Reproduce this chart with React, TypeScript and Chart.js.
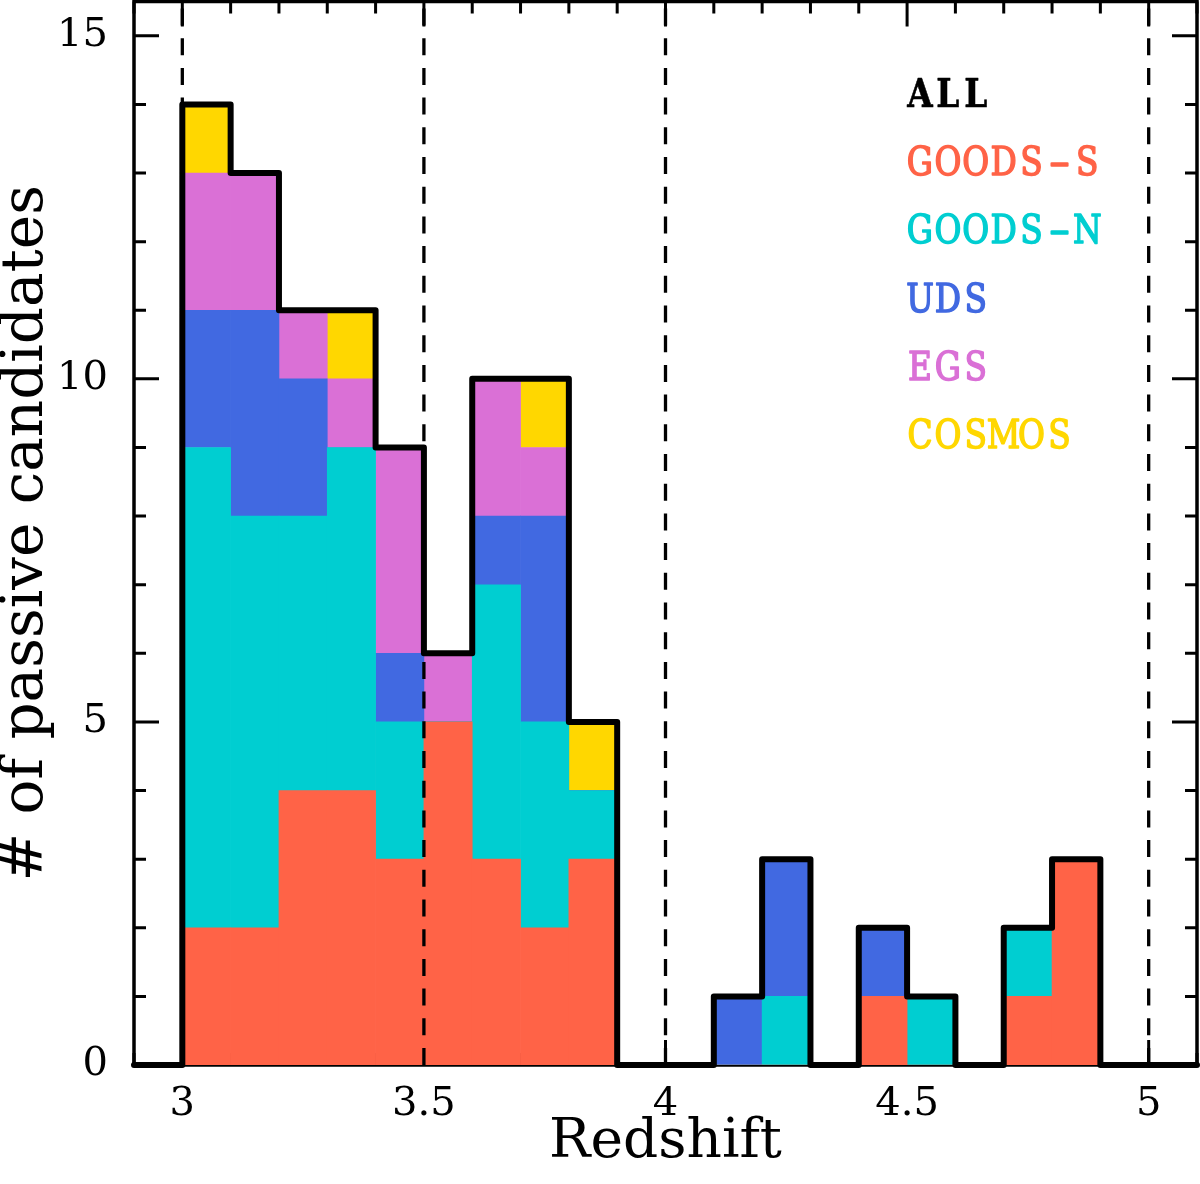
import React, { useEffect, useRef } from 'react';
import { Chart, registerables } from 'chart.js';

Chart.register(...registerables);

// ---- data ----
const BIN_CENTERS = [3.05, 3.15, 3.25, 3.35, 3.45, 3.55, 3.65, 3.75, 3.85, 3.95,
  4.05, 4.15, 4.25, 4.35, 4.45, 4.55, 4.65, 4.75, 4.85, 4.95];
const BIN_WIDTH = 0.1;

const GOODS_S = [2, 2, 4, 4, 3, 5, 3, 2, 3, 0, 0, 0, 0, 0, 1, 0, 0, 1, 3, 0];
const GOODS_N = [7, 6, 4, 5, 2, 0, 4, 3, 1, 0, 0, 0, 1, 0, 0, 1, 0, 1, 0, 0];
const UDS = [2, 3, 2, 0, 1, 0, 1, 3, 0, 0, 0, 1, 2, 0, 1, 0, 0, 0, 0, 0];
const EGS = [2, 2, 1, 1, 3, 1, 2, 1, 0, 0, 0, 0, 0, 0, 0, 0, 0, 0, 0, 0];
const COSMOS = [1, 0, 0, 1, 0, 0, 0, 1, 1, 0, 0, 0, 0, 0, 0, 0, 0, 0, 0, 0];

const SERIES = [
  { name: 'GOODS-S', values: GOODS_S, color: '#FF6347' },
  { name: 'GOODS-N', values: GOODS_N, color: '#00CED1' },
  { name: 'UDS', values: UDS, color: '#4169E1' },
  { name: 'EGS', values: EGS, color: '#DA70D6' },
  { name: 'COSMOS', values: COSMOS, color: '#FFD700' },
];

const LEGEND_ITEMS = ['ALL', 'GOODS-S', 'GOODS-N', 'UDS', 'EGS', 'COSMOS'];
const LEGEND_COLORS = ['#000000', '#FF6347', '#00CED1', '#4169E1', '#DA70D6', '#FFD700'];

const X_MIN = 2.9;
const X_MAX = 5.1;
const Y_MIN = 0;
const Y_MAX = 15.5;
const X_TICKS = [3, 3.5, 4, 4.5, 5];
const X_TICK_LABELS = ['3', '3.5', '4', '4.5', '5'];
const Y_TICKS = [0, 5, 10, 15];
const Y_TICK_LABELS = ['0', '5', '10', '15'];
const X_MINOR_STEP = 0.1;
const X_MAJOR_STEP = 0.5;
const Y_MINOR_STEP = 1;
const Y_MAJOR_STEP = 5;
const DASHED_X = [3, 3.5, 4, 5];

const X_TITLE = 'Redshift';
const Y_TITLE = '# of passive candidates';

const isMultiple = (v: number, step: number) => Math.abs(v / step - Math.round(v / step)) < 1e-6;

const framePlugin = {
  id: 'frameTicks',
  beforeDatasetsDraw(chart: any) {
    const { ctx, chartArea, scales } = chart;
    const { left, right, top, bottom } = chartArea;
    const xs = scales.x;
    const ys = scales.y;
    ctx.save();
    ctx.strokeStyle = '#000';
    ctx.lineCap = 'butt';
    ctx.lineWidth = 3;
    ctx.beginPath();
    const ny = Math.floor((Y_MAX - Y_MIN) / Y_MINOR_STEP + 1e-9);
    for (let k = 0; k <= ny; k++) {
      const v = Y_MIN + k * Y_MINOR_STEP;
      const py = ys.getPixelForValue(v);
      const len = isMultiple(v, Y_MAJOR_STEP) ? 25 : 12;
      ctx.moveTo(left, py);
      ctx.lineTo(left + len, py);
      ctx.moveTo(right, py);
      ctx.lineTo(right - len, py);
    }
    const nx = Math.floor((X_MAX - X_MIN) / X_MINOR_STEP + 1e-6);
    for (let k = 0; k <= nx; k++) {
      const v = X_MIN + k * X_MINOR_STEP;
      const px = xs.getPixelForValue(v);
      const len = isMultiple(v, X_MAJOR_STEP) ? 25 : 12;
      ctx.moveTo(px, top);
      ctx.lineTo(px, top + len);
      ctx.moveTo(px, bottom);
      ctx.lineTo(px, bottom - len);
    }
    ctx.stroke();
    ctx.lineWidth = 3.5;
    ctx.strokeRect(left, top, right - left, bottom - top);
    ctx.restore();
  },
};

const dashPlugin = {
  id: 'dashLines',
  afterDatasetsDraw(chart: any) {
    const { ctx, chartArea, scales } = chart;
    ctx.save();
    ctx.strokeStyle = '#000';
    ctx.lineWidth = 3.3;
    ctx.setLineDash([17, 12.7]);
    for (const v of DASHED_X) {
      const px = scales.x.getPixelForValue(v);
      ctx.beginPath();
      ctx.moveTo(px, chartArea.bottom);
      ctx.lineTo(px, chartArea.top);
      ctx.stroke();
    }
    ctx.restore();
  },
};

const CHAR_XSCALE: Record<string, number> = { '-': 1.9 };

const legendPlugin = {
  id: 'textLegend',
  afterDraw(chart: any) {
    const { ctx, chartArea } = chart;
    const cell = 27.9;
    const sx = 0.82;
    ctx.save();
    ctx.textBaseline = 'alphabetic';
    ctx.textAlign = 'center';
    LEGEND_ITEMS.forEach((t, i) => {
      const bold = i === 0;
      ctx.font = `${bold ? 'bold ' : ''}40px "DejaVu Serif", serif`;
      ctx.fillStyle = LEGEND_COLORS[i];
      ctx.strokeStyle = LEGEND_COLORS[i];
      ctx.lineWidth = bold ? 0.6 : 1.6;
      ctx.lineJoin = 'round';
      const baseX = chartArea.left + 772;
      const baseY = 107 + 68.2 * i;
      for (let c = 0; c < t.length; c++) {
        ctx.save();
        ctx.translate(baseX + cell * (c + 0.5), baseY);
        ctx.scale(sx * (CHAR_XSCALE[t[c]] || 1), 1);
        ctx.fillText(t[c], 0, 0);
        ctx.strokeText(t[c], 0, 0);
        ctx.restore();
      }
    });
    ctx.restore();
  },
};

export default function App() {
  const ref = useRef<HTMLCanvasElement | null>(null);

  useEffect(() => {
    document.body.style.margin = '0';
    if (!ref.current) return;

    const totals = BIN_CENTERS.map((_, i) => SERIES.reduce((s, d) => s + d.values[i], 0));
    const outline = [
      { x: X_MIN, y: 0 },
      ...BIN_CENTERS.map((c, i) => ({ x: c - BIN_WIDTH / 2, y: totals[i] })),
      { x: BIN_CENTERS[BIN_CENTERS.length - 1] + BIN_WIDTH / 2, y: 0 },
      { x: X_MAX, y: 0 },
    ];

    const datasets: any[] = [
      {
        type: 'line',
        label: 'ALL',
        data: outline,
        stepped: 'before',
        borderColor: '#000',
        borderWidth: 6,
        borderJoinStyle: 'round',
        borderCapStyle: 'round',
        pointRadius: 0,
        fill: false,
        order: -1,
        stack: 'outline',
        clip: false,
      },
      ...SERIES.map((s) => ({
        type: 'bar',
        label: s.name,
        data: BIN_CENTERS.map((c, i) => ({ x: c, y: s.values[i] })),
        backgroundColor: s.color,
        borderWidth: 0,
        barPercentage: 1,
        categoryPercentage: 1,
        grouped: false,
        stack: 'hist',
      })),
    ];

    const tickFont = { family: '"DejaVu Serif", serif', size: 40, lineHeight: 1 };

    const chart = new Chart(ref.current, {
      type: 'bar',
      data: { datasets },
      plugins: [framePlugin, dashPlugin, legendPlugin],
      options: {
        animation: false,
        responsive: true,
        maintainAspectRatio: false,
        events: [],
        layout: { padding: { left: 0, right: 3, top: 1.5, bottom: 0 } },
        plugins: {
          legend: { display: false },
          tooltip: { enabled: false },
        },
        scales: {
          x: {
            type: 'linear',
            min: X_MIN,
            max: X_MAX,
            offset: false,
            stacked: false,
            grid: { display: false, drawTicks: false },
            border: { display: false },
            afterBuildTicks: (s: any) => {
              s.ticks = X_TICKS.map((v) => ({ value: v }));
            },
            afterFit: (s: any) => {
              s.height = 119;
              s.paddingLeft = 0;
              s.paddingRight = 0;
              s.paddingTop = 0;
              s.paddingBottom = 0;
            },
            ticks: {
              autoSkip: false,
              maxRotation: 0,
              minRotation: 0,
              padding: 20,
              color: '#000',
              font: tickFont,
              callback: (v: any) => {
                const i = X_TICKS.findIndex((t) => Math.abs(t - Number(v)) < 1e-9);
                return i >= 0 ? X_TICK_LABELS[i] : '';
              },
            },
            title: {
              display: true,
              text: X_TITLE,
              color: '#000',
              font: { family: '"DejaVu Serif", serif', size: 55, lineHeight: 1 },
              padding: { top: 0, bottom: 13.5 },
            },
          },
          y: {
            type: 'linear',
            min: Y_MIN,
            max: Y_MAX,
            stacked: true,
            grid: { display: false, drawTicks: false },
            border: { display: false },
            afterBuildTicks: (s: any) => {
              s.ticks = Y_TICKS.map((v) => ({ value: v }));
            },
            afterFit: (s: any) => {
              s.width = 134;
              s.paddingLeft = 0;
              s.paddingRight = 0;
              s.paddingTop = 0;
              s.paddingBottom = 0;
            },
            ticks: {
              autoSkip: false,
              padding: 26,
              color: '#000',
              font: tickFont,
              callback: (v: any) => {
                const i = Y_TICKS.findIndex((t) => Math.abs(t - Number(v)) < 1e-9);
                return i >= 0 ? Y_TICK_LABELS[i] : '';
              },
            },
            title: {
              display: true,
              text: Y_TITLE,
              color: '#000',
              font: { family: '"DejaVu Serif", serif', size: 58, lineHeight: 1 },
              padding: { top: -2, bottom: 0 },
            },
          },
        },
      } as any,
    });

    return () => chart.destroy();
  }, []);

  return (
    <div style={{ position: 'relative', width: 1200, height: 1184, background: '#fff' }}>
      <canvas ref={ref} />
    </div>
  );
}
